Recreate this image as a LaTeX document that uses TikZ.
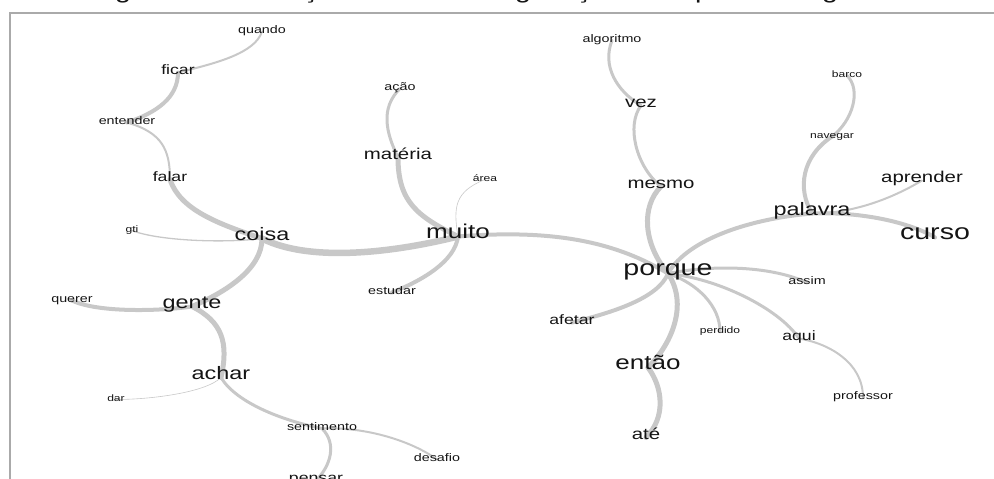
\documentclass[tikz,border=0pt]{standalone}
\usepackage{fontspec}
\newfontfamily\lab[FakeStretch=1.3]{Liberation Sans}
\pgfdeclarelayer{bg}
\pgfsetlayers{bg,main}
\definecolor{edgegray}{RGB}{200,200,200}
\definecolor{framegray}{RGB}{170,170,170}
\definecolor{ink}{RGB}{20,20,20}
\tikzset{
  word/.style={inner sep=0pt, text=ink, text height=1ex, text depth=0pt, anchor=center, yshift=-3.5pt},
  tA/.style={word, font=\lab\fontsize{22}{24}\selectfont},
  tB/.style={word, font=\lab\fontsize{20}{22}\selectfont},
  tC/.style={word, font=\lab\fontsize{18}{20}\selectfont},
  tD/.style={word, font=\lab\fontsize{15.7}{18}\selectfont},
  tE/.style={word, font=\lab\fontsize{13.6}{16}\selectfont},
  tF/.style={word, font=\lab\fontsize{11}{13}\selectfont},
  tG/.style={word, font=\lab\fontsize{9.3}{11}\selectfont},
  lnk/.style={draw=edgegray, line cap=round, line join=round},
  hair/.style={lnk, line width=0.6pt},
  thin/.style={lnk, line width=2pt},
  mid/.style={lnk, line width=3pt},
  thick/.style={lnk, line width=4pt},
  heavy/.style={lnk, line width=5pt},
  huge/.style={lnk, line width=6.5pt},
  frameline/.style={draw=framegray, line width=2pt},
  titleglyph/.style={inner sep=0pt, anchor=base, text=ink, font=\lab\fontsize{22}{24}\selectfont}
}
\begin{document}
\begin{tikzpicture}[x=1pt, y=-1pt]
\useasboundingbox (0,0) rectangle (994,479);
\clip (0,0) rectangle (994,479);
% title line, cut off by the top edge
\node[titleglyph] (g1) at (123,-1.5) {g};
\node[titleglyph] (g2) at (310,-1.5) {ç};
\node[titleglyph] (g3) at (523,-1.5) {g};
\node[titleglyph] (g4) at (583,-1.5) {ç};
\node[titleglyph] (g5) at (703,-1.5) {p};
\node[titleglyph] (g6) at (830,-1.5) {g};
% frame
\coordinate (fa) at (994,12.5);
\coordinate (fb) at (9.5,12.5);
\coordinate (fc) at (9.5,480);
\draw[frameline] (fa) -- (fb) -- (fc);
% words
\node[tF] (quando) at (262,28) {quando};
\node[tE] (ficar) at (178,69) {ficar};
\node[tF] (acao) at (400,85) {ação};
\node[tF] (entender) at (127,119) {entender};
\node[tD] (materia) at (398,154) {matéria};
\node[tE] (falar) at (170,176) {falar};
\node[tG] (area) at (485,176) {área};
\node[tG] (gti) at (132,227) {gti};
\node[tC] (coisa) at (262,235) {coisa};
\node[tB] (muito) at (458,233) {muito};
\node[tF] (algoritmo) at (612,37) {algoritmo};
\node[tG] (barco) at (847,72) {barco};
\node[tD] (vez) at (641,102) {vez};
\node[tG] (navegar) at (832,133) {navegar};
\node[tD] (mesmo) at (661,183) {mesmo};
\node[tD] (aprender) at (922,177) {aprender};
\node[tC] (palavra) at (812,210) {palavra};
\node[tA] (curso) at (935,234) {curso};
\node[tF] (estudar) at (392,289) {estudar};
\node[tF] (querer) at (72,297) {querer};
\node[tC] (gente) at (192,303) {gente};
\node[tC] (achar) at (221,374) {achar};
\node[tG] (dar) at (116,396) {dar};
\node[tF] (sentimento) at (322,425) {sentimento};
\node[tF] (desafio) at (437,456) {desafio};
\node[tE] (pensar) at (316,477) {pensar};
\node[tA] (porque) at (668,270) {porque};
\node[tF] (assim) at (807,279) {assim};
\node[tE] (afetar) at (572,319) {afetar};
\node[tG] (perdido) at (720,328) {perdido};
\node[tE] (aqui) at (799,335) {aqui};
\node[tB] (entao) at (648,364) {então};
\node[tF] (professor) at (863,394) {professor};
\node[tD] (ate) at (646,434) {até};
% links
\begin{pgfonlayer}{bg}
\draw[thin]  (quando.center) .. controls +(-7,22) and +(37,-9) .. (ficar.center);
\draw[thick] (ficar.center) .. controls +(0,25) and +(30,-10) .. (entender.center);
\draw[thin]  (entender.center) .. controls +(35,10) and +(0,-30) .. (falar.center);
\draw[heavy] (falar.center) .. controls +(10,30) and +(-45,-15) .. (coisa.center);
\draw[lnk, line width=1.3pt] (gti.center) .. controls +(25,10) and +(-40,5) .. (coisa.center);
\draw[huge]  (coisa.center) .. controls +(50,25) and +(-60,15) .. (muito.center);
\draw[mid]   (acao.center) .. controls +(-20,20) and +(-12,-25) .. (materia.center);
\draw[heavy] (materia.center) .. controls +(0,45) and +(-40,-20) .. (muito.center);
\draw[hair]  (area.center) .. controls +(-30,12) and +(-5,-30) .. (muito.center);
\draw[thick] (muito.center) .. controls +(-3,25) and +(30,-12) .. (estudar.center);
\draw[thick] (muito.center) .. controls +(100,-8) and +(-50,-30) .. (porque.center);
\draw[heavy] (coisa.center) .. controls +(0,30) and +(35,-15) .. (gente.center);
\draw[thick] (querer.center) .. controls +(25,12) and +(-35,5) .. (gente.center);
\draw[heavy] (gente.center) .. controls +(30,15) and +(8,-35) .. (achar.center);
\draw[hair]  (achar.center) .. controls +(-15,15) and +(35,0) .. (dar.center);
\draw[mid]   (achar.center) .. controls +(15,25) and +(-40,-8) .. (sentimento.center);
\draw[thin]  (sentimento.center) .. controls +(50,-2) and +(-20,-15) .. (desafio.center);
\draw[mid]   (sentimento.center) .. controls +(15,15) and +(15,-15) .. (pensar.center);
\draw[mid]   (algoritmo.center) .. controls +(-10,25) and +(-25,-15) .. (vez.center);
\draw[mid]   (vez.center) .. controls +(-15,20) and +(-25,-20) .. (mesmo.center);
\draw[heavy] (mesmo.center) .. controls +(-20,20) and +(-25,-30) .. (porque.center);
\draw[mid]   (barco.center) .. controls +(15,15) and +(20,-15) .. (navegar.center);
\draw[thick] (navegar.center) .. controls +(-30,20) and +(-15,-25) .. (palavra.center);
\draw[thin]  (palavra.center) .. controls +(45,0) and +(-25,15) .. (aprender.center);
\draw[thick] (palavra.center) .. controls +(50,-2) and +(-25,-15) .. (curso.center);
\draw[thick] (porque.center) .. controls +(20,-35) and +(-60,5) .. (palavra.center);
\draw[mid]   (porque.center) .. controls +(40,-8) and +(-40,-18) .. (assim.center);
\draw[thick] (porque.center) .. controls +(-10,25) and +(40,-10) .. (afetar.center);
\draw[mid]   (porque.center) .. controls +(30,10) and +(0,-25) .. (perdido.center);
\draw[mid]   (porque.center) .. controls +(50,5) and +(-20,-30) .. (aqui.center);
\draw[thin]  (aqui.center) .. controls +(30,5) and +(0,-35) .. (professor.center);
\draw[heavy] (porque.center) .. controls +(20,30) and +(25,-25) .. (entao.center);
\draw[heavy] (entao.center) .. controls +(15,20) and +(20,-20) .. (ate.center);
\end{pgfonlayer}
\end{tikzpicture}
\end{document}
